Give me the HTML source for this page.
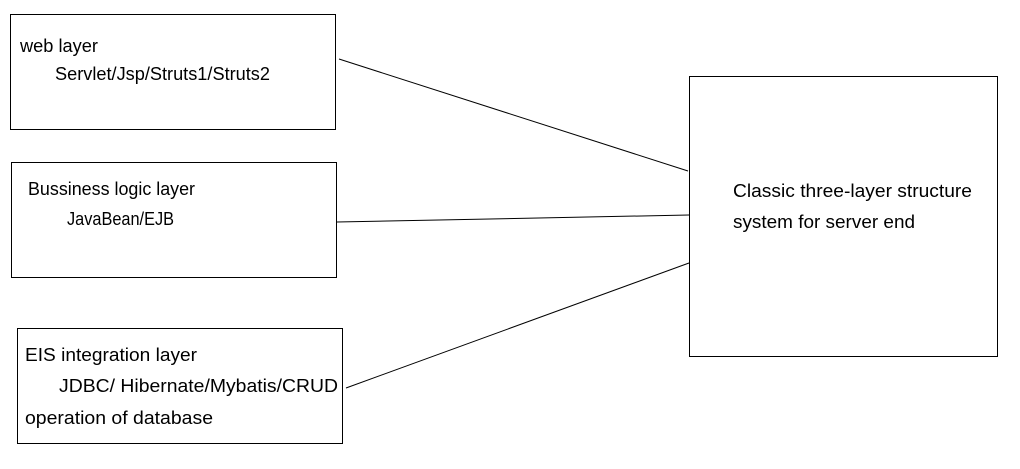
<!DOCTYPE html>
<html><head><meta charset="utf-8"><style>
html,body{margin:0;padding:0;background:#fff;width:1020px;height:469px;overflow:hidden}
svg text{font-family:"Liberation Sans",sans-serif;font-size:18px;fill:#000}
</style></head><body>
<svg width="1020" height="469" xmlns="http://www.w3.org/2000/svg">
<g fill="none" stroke="#000" stroke-width="1">
<rect x="10.5" y="14.5" width="325" height="115"/>
<rect x="11.5" y="162.5" width="325" height="115"/>
<rect x="17.5" y="328.5" width="325" height="115"/>
<rect x="689.5" y="76.5" width="308" height="280"/>
<line x1="339" y1="59" x2="688" y2="171"/>
<line x1="337" y1="222" x2="689" y2="215"/>
<line x1="346" y1="388" x2="689" y2="263"/>
</g>
<text x="20" y="52" textLength="78" lengthAdjust="spacingAndGlyphs">web layer</text>
<text x="55" y="80" textLength="215" lengthAdjust="spacingAndGlyphs">Servlet/Jsp/Struts1/Struts2</text>
<text x="28" y="195" textLength="167" lengthAdjust="spacingAndGlyphs">Bussiness logic layer</text>
<text x="67" y="225" textLength="107" lengthAdjust="spacingAndGlyphs">JavaBean/EJB</text>
<text x="25" y="361" textLength="172" lengthAdjust="spacingAndGlyphs">EIS integration layer</text>
<text x="59" y="392" textLength="279" lengthAdjust="spacingAndGlyphs">JDBC/ Hibernate/Mybatis/CRUD</text>
<text x="25" y="424" textLength="188" lengthAdjust="spacingAndGlyphs">operation of database</text>
<text x="733" y="197" textLength="239" lengthAdjust="spacingAndGlyphs">Classic three-layer structure</text>
<text x="733" y="228" textLength="182" lengthAdjust="spacingAndGlyphs">system for server end</text>
</svg>
</body></html>
